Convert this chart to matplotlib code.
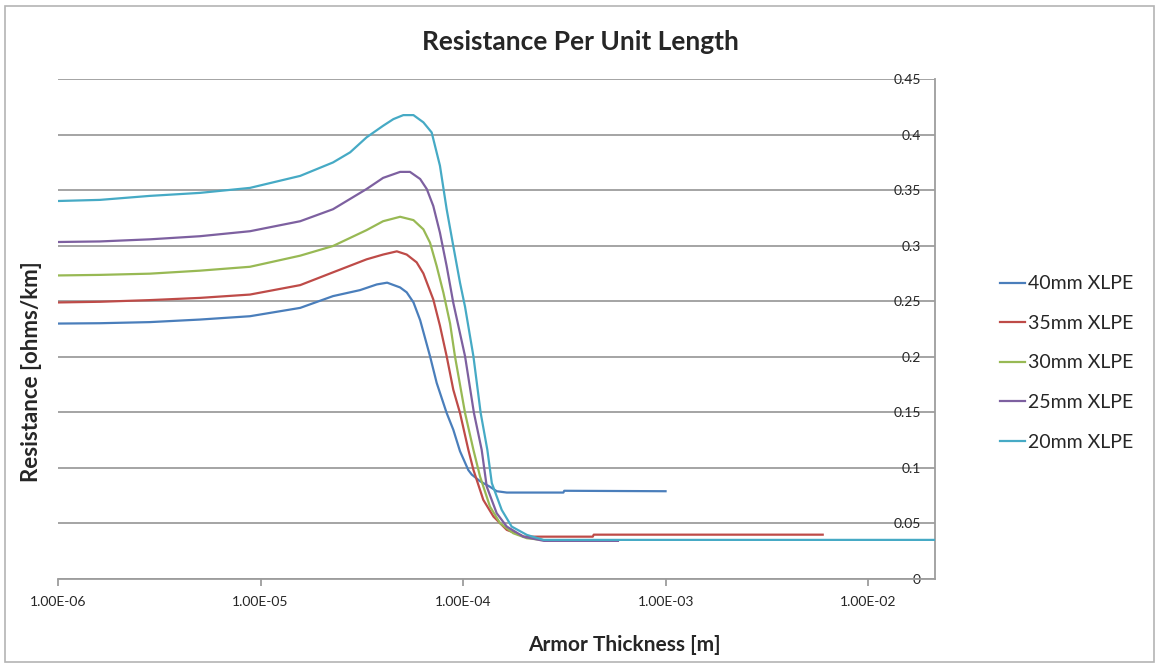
import matplotlib
matplotlib.use("Agg")
import matplotlib.pyplot as plt
from matplotlib.patches import Rectangle
from matplotlib.ticker import FixedLocator, FuncFormatter, NullLocator

plt.rcParams['font.family'] = ['Lato', 'DejaVu Sans']

# armor thickness [m] and resistance [ohms/km]
x_40 = [1.00e-6, 1.61e-6, 2.84e-6, 5.02e-6, 8.87e-6, 1.57e-5, 2.28e-5, 3.10e-5, 3.75e-5,
        4.22e-5, 4.89e-5, 5.27e-5, 5.69e-5, 6.14e-5, 6.87e-5, 7.41e-5, 8.30e-5, 8.95e-5,
        9.66e-5, 1.062e-4, 1.104e-4, 1.213e-4, 1.358e-4, 1.466e-4, 1.644e-4, 3.13e-4,
        3.16e-4, 1.00e-3]
r_40 = [0.2299, 0.2302, 0.2312, 0.2335, 0.2365, 0.244, 0.2546, 0.260, 0.2651,
        0.2667, 0.2624, 0.258, 0.249, 0.233, 0.2005, 0.1765, 0.1494, 0.1344,
        0.115, 0.098, 0.094, 0.088, 0.083, 0.079, 0.0778, 0.0778,
        0.0794, 0.0790]

x_35 = [1.00e-6, 1.61e-6, 2.84e-6, 5.02e-6, 8.87e-6, 1.57e-5, 2.28e-5, 3.34e-5, 4.03e-5,
        4.71e-5, 5.27e-5, 5.90e-5, 6.37e-5, 7.13e-5, 7.69e-5, 8.30e-5, 8.95e-5, 9.66e-5,
        1.062e-4, 1.125e-4, 1.259e-4, 1.413e-4, 1.644e-4, 1.910e-4, 1.995e-4, 4.37e-4,
        4.42e-4, 5.97e-3]
r_35 = [0.2489, 0.2495, 0.251, 0.253, 0.256, 0.2645, 0.276, 0.2877, 0.292,
        0.2949, 0.292, 0.285, 0.275, 0.2516, 0.228, 0.2005, 0.1704, 0.1494,
        0.1163, 0.0983, 0.0712, 0.0562, 0.0442, 0.0397, 0.0381, 0.0381,
        0.0399, 0.0399]

x_30 = [1.00e-6, 1.61e-6, 2.84e-6, 5.02e-6, 8.87e-6, 1.57e-5, 2.28e-5, 3.34e-5, 4.03e-5,
        4.89e-5, 5.69e-5, 6.37e-5, 6.87e-5, 7.41e-5, 8.00e-5, 8.63e-5, 9.12e-5, 1.023e-4,
        1.125e-4, 1.213e-4, 1.358e-4, 1.524e-4, 1.770e-4, 2.065e-4, 2.51e-4, 4.57e-4]
r_30 = [0.2732, 0.2737, 0.2748, 0.2775, 0.281, 0.291, 0.2997, 0.314, 0.322,
        0.326, 0.323, 0.3147, 0.3027, 0.2816, 0.2576, 0.230, 0.2005, 0.1494,
        0.1163, 0.0923, 0.0652, 0.0502, 0.0412, 0.0367, 0.035, 0.035]

x_25 = [1.00e-6, 1.61e-6, 2.84e-6, 5.02e-6, 8.87e-6, 1.57e-5, 2.28e-5, 3.34e-5, 4.03e-5,
        4.89e-5, 5.47e-5, 6.14e-5, 6.62e-5, 7.13e-5, 7.69e-5, 8.30e-5, 8.95e-5, 1.023e-4,
        1.132e-4, 1.236e-4, 1.309e-4, 1.466e-4, 1.644e-4, 1.986e-4, 2.51e-4, 5.82e-4]
r_25 = [0.3033, 0.3038, 0.3057, 0.3085, 0.313, 0.322, 0.3328, 0.351, 0.361,
        0.3664, 0.3664, 0.360, 0.351, 0.3357, 0.3117, 0.2816, 0.2486, 0.2005,
        0.1494, 0.1163, 0.0832, 0.0592, 0.0472, 0.0381, 0.0343, 0.0343]

x_20 = [1.00e-6, 1.61e-6, 2.84e-6, 5.02e-6, 8.87e-6, 1.57e-5, 2.28e-5, 2.77e-5, 3.34e-5,
        4.03e-5, 4.53e-5, 5.07e-5, 5.69e-5, 6.37e-5, 7.00e-5, 7.69e-5, 8.30e-5, 8.95e-5,
        9.66e-5, 1.023e-4, 1.125e-4, 1.222e-4, 1.318e-4, 1.387e-4, 1.552e-4, 1.738e-4,
        2.065e-4, 2.495e-4, 2.14e-2]
r_20 = [0.3402, 0.3412, 0.3448, 0.3475, 0.352, 0.3628, 0.3749, 0.384, 0.3975,
        0.4079, 0.4139, 0.4175, 0.4175, 0.411, 0.4019, 0.372, 0.3328, 0.2997,
        0.2667, 0.245, 0.2005, 0.1494, 0.1163, 0.0863, 0.0622, 0.0472,
        0.0397, 0.0352, 0.0352]

series = [
    ("40mm XLPE", x_40, r_40, "#4a7ebb"),
    ("35mm XLPE", x_35, r_35, "#be4b48"),
    ("30mm XLPE", x_30, r_30, "#98b954"),
    ("25mm XLPE", x_25, r_25, "#7d60a0"),
    ("20mm XLPE", x_20, r_20, "#46aac5"),
]

x_ticks = [1e-6, 1e-5, 1e-4, 1e-3, 1e-2]
y_ticks = [0, 0.05, 0.1, 0.15, 0.2, 0.25, 0.3, 0.35, 0.4, 0.45]

fig = plt.figure(figsize=(11.55, 6.63), dpi=100)
ax = fig.add_axes([58 / 1155, 1 - 579 / 663, (935 - 58) / 1155, (579 - 79) / 663])

axis_col = "#9d9d9d"
text_col = "#262626"

for lab, xs, rs, col in series:
    ax.plot(xs, rs, color=col, lw=1.6, label=lab, zorder=3)

ax.set_xscale("log")
ax.set_xlim(1e-6, 2.14e-2)
ax.set_ylim(0, 0.45)

ax.xaxis.set_major_locator(FixedLocator(x_ticks))
ax.xaxis.set_minor_locator(NullLocator())
ax.xaxis.set_major_formatter(FuncFormatter(lambda v, p: "%.2E" % v))
ax.yaxis.set_major_locator(FixedLocator(y_ticks))
ax.yaxis.set_major_formatter(FuncFormatter(lambda v, p: "0" if v == 0 else ("%.2f" % v).rstrip("0")))

ax.grid(axis="y", color=axis_col, lw=1.3, zorder=1)
for s in ["left", "top"]:
    ax.spines[s].set_visible(False)
for s in ["bottom", "right"]:
    ax.spines[s].set_color(axis_col)
    ax.spines[s].set_linewidth(1.3)

ax.tick_params(axis="x", direction="out", length=5, width=1.3, color=axis_col,
               labelsize=10, labelcolor=text_col, pad=7)
ax.yaxis.tick_right()
ax.tick_params(axis="y", direction="in", length=0, labelsize=10, labelcolor=text_col, pad=-10)
for t in ax.get_yticklabels():
    t.set_horizontalalignment("right")

fig.text(580 / 1155, 1 - 42 / 663, "Resistance Per Unit Length", ha="center", va="center",
         fontsize=19, fontweight="bold", color=text_col)
fig.text(624 / 1155, 1 - 645 / 663, "Armor Thickness [m]", ha="center", va="center",
         fontsize=15, fontweight="bold", color=text_col)
fig.text(32 / 1155, 1 - 372 / 663, "Resistance [ohms/km]", ha="center", va="center",
         rotation=90, fontsize=16, fontweight="bold", color=text_col)

leg = ax.legend(loc="center left", bbox_to_anchor=(982 / 1155, 1 - 363 / 663),
                bbox_transform=fig.transFigure, frameon=False, fontsize=14,
                handlelength=1.3, handletextpad=0.15, labelspacing=1.16)
for t in leg.get_texts():
    t.set_color(text_col)

fig.patches.append(Rectangle((5 / 1155, 1 / 663), 1149 / 1155, 656 / 663, transform=fig.transFigure,
                             fill=False, edgecolor="#b4b4b4", lw=1.2))

fig.savefig("out.png", dpi=100)
